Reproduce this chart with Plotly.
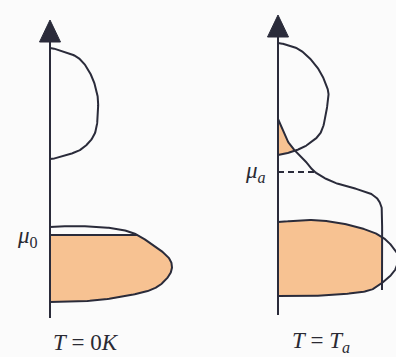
import numpy as np
import plotly.graph_objects as go

# Diagram frame: g = density of states (rightwards from each energy axis),
# E = energy (upwards). Each panel has its own energy axis.

# ---- Panel 1: T = 0 K ----
cb0_g = [2, 27, 40, 47, 48, 45, 33, 17, 2]
cb0_E = [270, 261, 245, 225, 208, 185, 170, 163, 159]
vb0_g = [2, 27, 60, 83, 103, 118, 122, 118, 107, 90, 50, 2]
vb0_E = [91, 92, 90, 85, 73, 61, 51, 41, 31, 25, 18, 16]
mu0 = 83

# ---- Panel 2: T = T_a ----
cba_g = [2, 22, 39, 49, 50, 44, 32, 19, 2]
cba_E = [275, 268, 251, 231, 218, 188, 175, 168, 163]
vba_g = [2, 32, 62, 89, 104, 113, 120, 117, 104, 89, 55, 32, 2]
vba_E = [96, 98, 95, 88, 81, 73, 62, 48, 35, 27, 23, 22, 22]
fermi_g = [0, 9, 19, 29, 37, 55, 82, 95, 102, 104, 104]
fermi_E = [199, 178, 165, 155, 146, 136, 128, 123, 115, 101, 28]
mu_a = 146

LINE = "#2a2b3a"
FILL = "#f7c292"
BG = "#fbfbfb"
LW = 2

# axis placement (px from left) and axis extents in E
AX1, AX2 = 50, 278
AX1_E = (0, 276, 298)   # bottom, arrow base, arrow tip
AX2_E = (3, 281, 303)
ARROW_HALF = 10.5


def catmull(gs, es, n=24):
    p = np.column_stack([gs, es]).astype(float)
    p = np.vstack([p[0], p, p[-1]])
    out = []
    for i in range(1, len(p) - 2):
        p0, p1, p2, p3 = p[i - 1], p[i], p[i + 1], p[i + 2]
        t = np.linspace(0, 1, n, endpoint=False)[:, None]
        seg = 0.5 * ((2 * p1) + (-p0 + p2) * t
                     + (2 * p0 - 5 * p1 + 4 * p2 - p3) * t ** 2
                     + (-p0 + 3 * p1 - 3 * p2 + p3) * t ** 3)
        out.append(seg)
    out.append(p[-2][None, :])
    c = np.vstack(out)
    return c[:, 0], c[:, 1]


fig = go.Figure()


def poly(x, y, color):
    fig.add_trace(go.Scatter(x=x, y=y, mode="lines", fill="toself",
                             fillcolor=color, line=dict(width=0, color=color),
                             hoverinfo="skip", showlegend=False))


def curve(x, y, dash=None):
    fig.add_trace(go.Scatter(x=x, y=y, mode="lines",
                             line=dict(color=LINE, width=LW, dash=dash),
                             hoverinfo="skip", showlegend=False))


# ---------- fills ----------
# Panel 1: valence band filled up to mu0
g, e = catmull(vb0_g, vb0_E)
k = np.argmax(e <= mu0)
gc = np.interp(mu0, [e[k], e[k - 1]], [g[k], g[k - 1]])
fx = np.concatenate([[0, gc], g[k:], [0]]) + AX1
fy = np.concatenate([[mu0, mu0], e[k:], [e[-1]]])
poly(fx, fy, FILL)

# Panel 2: occupied part of the conduction band (below the occupation curve)
fg, fe = catmull(fermi_g, fermi_E)
cg, ce = catmull(cba_g, cba_E)
lower = cg[np.argmax(cg):], ce[np.argmax(cg):]
lo_g, lo_e = lower[0][::-1], lower[1][::-1]
Es = np.linspace(min(cba_E), max(fermi_E), 200)
g_band = np.interp(Es, lo_e, lo_g)
g_occ = np.interp(Es, fe[::-1], fg[::-1])
g_fill = np.minimum(g_band, g_occ)
poly(np.concatenate([[0], g_fill, [0]]) + AX2,
     np.concatenate([[Es[0]], Es, [Es[-1]]]), FILL)

# Panel 2: valence band, occupied up to the occupation curve
vg, ve = catmull(vba_g, vba_E)
g_cap = max(fermi_g)
poly(np.concatenate([[0], np.minimum(vg, g_cap), [0]]) + AX2,
     np.concatenate([[ve[0]], ve, [ve[-1]]]), FILL)

# ---------- outlines ----------
for (gs, es) in [(cb0_g, cb0_E), (vb0_g, vb0_E)]:
    x, y = catmull(gs, es)
    curve(np.concatenate([[0], x, [0]]) + AX1, np.concatenate([[y[0]], y, [y[-1]]]))
curve([AX1, AX1 + gc], [mu0, mu0])

for (gs, es) in [(cba_g, cba_E), (vba_g, vba_E)]:
    x, y = catmull(gs, es)
    curve(np.concatenate([[0], x, [0]]) + AX2, np.concatenate([[y[0]], y, [y[-1]]]))
curve(fg + AX2, fe)
mu_a_g = float(np.interp(mu_a, fe[::-1], fg[::-1]))
curve([AX2, AX2 + mu_a_g], [mu_a, mu_a], dash="6px,4px")

# ---------- energy axes with arrowheads ----------
for ax, (lo, base, tip) in [(AX1, AX1_E), (AX2, AX2_E)]:
    curve([ax, ax], [lo, base])
    fig.add_trace(go.Scatter(x=[ax - ARROW_HALF, ax + ARROW_HALF, ax, ax - ARROW_HALF],
                             y=[base, base, tip, base], mode="lines", fill="toself",
                             fillcolor=LINE, line=dict(color=LINE, width=1),
                             hoverinfo="skip", showlegend=False))

# ---------- labels ----------
FONT = dict(family="Times New Roman, Liberation Serif, DejaVu Serif, serif",
            size=23, color="#2a2a33")
labels = [
    (27, 81, "<i>μ</i><sub>0</sub>"),
    (255, 146, "<i>μ</i><sub><i>a</i></sub>"),
    (86, -24, "<i>T</i> = 0<i>K</i>"),
    (321, -24, "<i>T</i> = <i>T</i><sub><i>a</i></sub>"),
]
for x, y, t in labels:
    fig.add_annotation(x=x, y=y, text=t, showarrow=False, font=FONT,
                       xanchor="center", yanchor="middle")

fig.update_layout(
    width=396, height=357, margin=dict(l=0, r=0, t=0, b=0),
    paper_bgcolor=BG, plot_bgcolor=BG,
    xaxis=dict(range=[0, 396], visible=False, fixedrange=True),
    yaxis=dict(range=[-39, 318], visible=False, fixedrange=True),
)
fig.write_html("out.html")
